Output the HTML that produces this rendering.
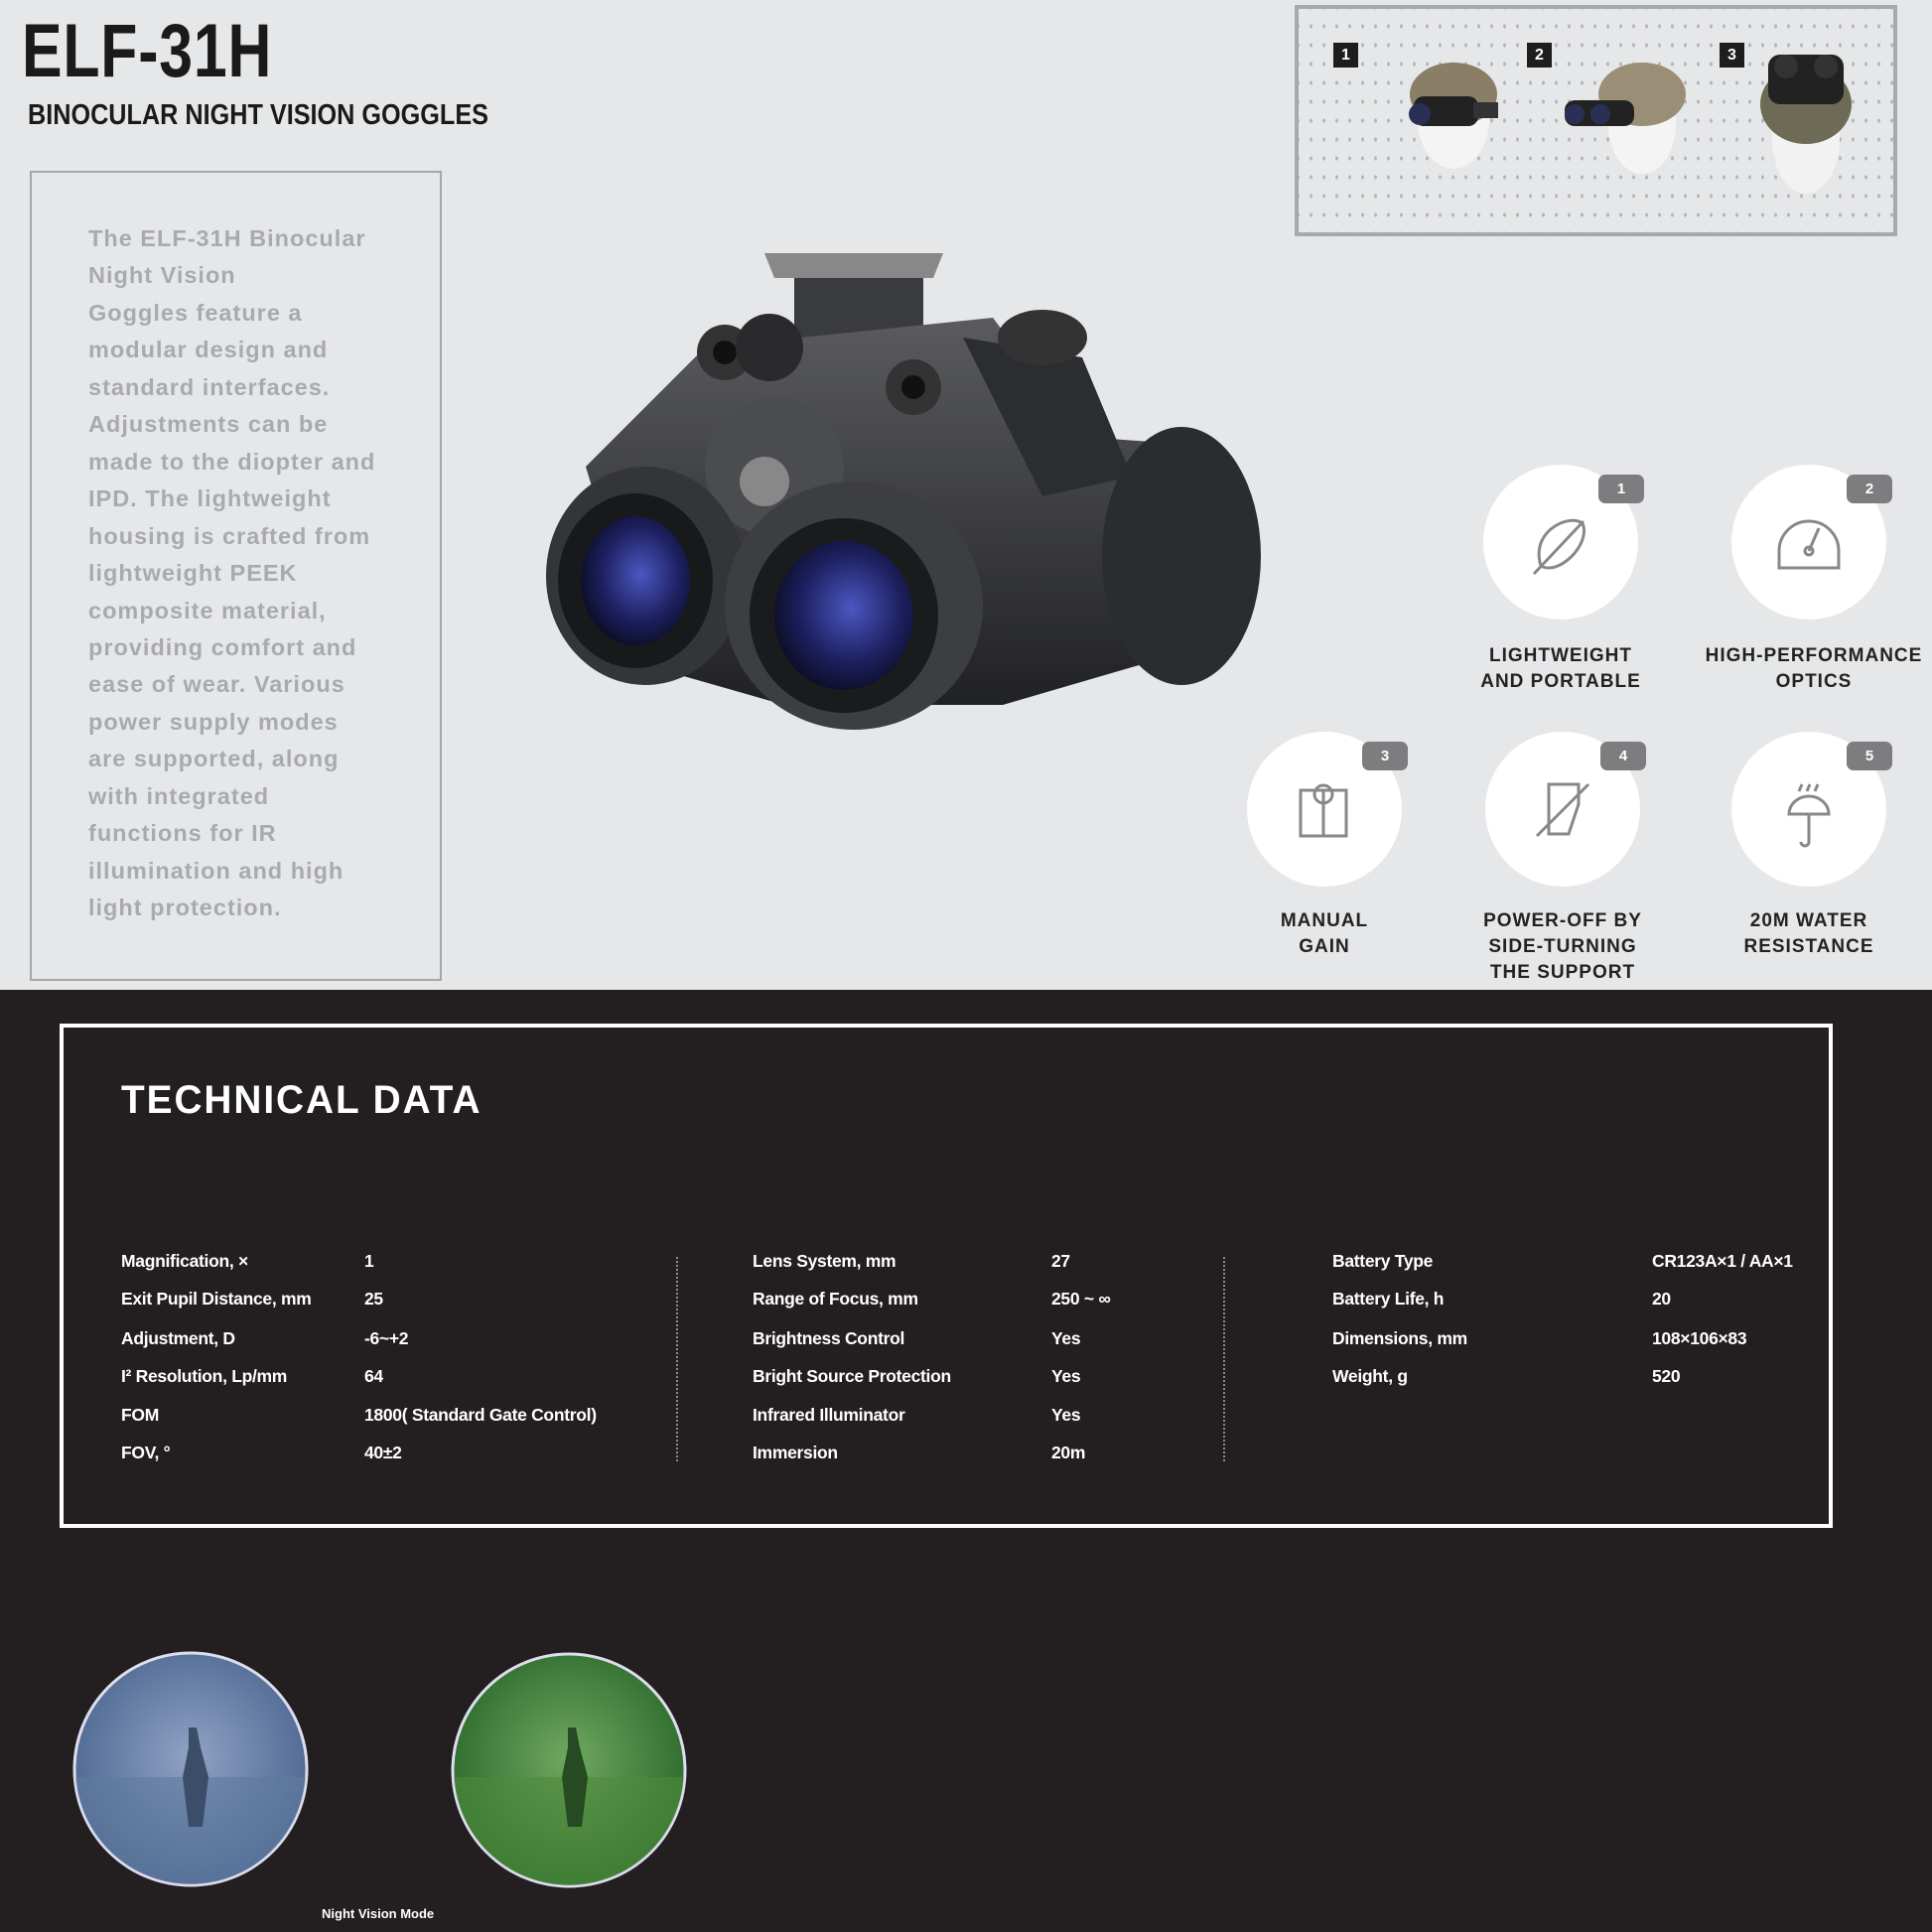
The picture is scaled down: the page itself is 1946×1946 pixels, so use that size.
<!DOCTYPE html>
<html><head><meta charset="utf-8"><style>
*{margin:0;padding:0;box-sizing:border-box}
body{width:1946px;height:1946px;overflow:hidden;background:#231f20;font-family:"Liberation Sans",sans-serif;position:relative}
.top{position:absolute;left:0;top:0;width:1946px;height:997px;background:#e6e7e9}
.a{position:absolute;white-space:nowrap}
.title{left:22px;top:8px;font-size:76px;font-weight:bold;color:#1a1a1a;letter-spacing:1px;transform:scaleX(0.8);transform-origin:left}
.sub{left:28px;top:100px;font-size:29px;font-weight:bold;color:#1a1a1a;transform:scaleX(0.87);transform-origin:left}
.tbox{left:30px;top:172px;width:415px;height:816px;border:2px solid #a5a6a8}
.desc{left:89px;top:222px;font-size:23.5px;line-height:37.45px;color:#a9aaac;font-weight:bold;letter-spacing:1px}
.hbox{left:1304px;top:5px;width:607px;height:233px;border:4px solid #a8a9ab;background-image:radial-gradient(#b5b5b5 1.3px,transparent 1.6px);background-size:13px 19px;background-position:6px 8px}
.num{position:absolute;width:25px;height:25px;background:#1e1e1e;color:#fff;font-size:16px;font-weight:bold;text-align:center;line-height:25px}
.circ{position:absolute;width:156px;height:156px;border-radius:50%;background:#fff}
.badge{position:absolute;width:46px;height:29px;border-radius:7px;background:#7d7d7f;color:#fff;font-size:15px;font-weight:bold;text-align:center;line-height:29px}
.lab{position:absolute;width:260px;text-align:center;font-size:19px;font-weight:bold;line-height:26px;color:#222;letter-spacing:1px}
.wbox{left:60px;top:1031px;width:1786px;height:508px;border:4px solid #fff}
.td{left:122px;top:1086px;font-size:40px;font-weight:bold;color:#fff;letter-spacing:2px;transform:scaleX(0.97);transform-origin:left}
.t{position:absolute;color:#fff;font-size:17.5px;font-weight:bold;white-space:nowrap;letter-spacing:-.3px}
.sep{position:absolute;top:1266px;height:206px;border-left:2px dotted #8a8a8a}
</style></head><body>
<div class="top"></div>
<div class="a title">ELF-31H</div>
<div class="a sub">BINOCULAR NIGHT VISION GOGGLES</div>
<div class="a tbox"></div>
<div class="a desc">The ELF-31H Binocular<br>Night Vision<br>Goggles feature a<br>modular design and<br>standard interfaces.<br>Adjustments can be<br>made to the diopter and<br>IPD. The lightweight<br>housing is crafted from<br>lightweight PEEK<br>composite material,<br>providing comfort and<br>ease of wear. Various<br>power supply modes<br>are supported, along<br>with integrated<br>functions for IR<br>illumination and high<br>light protection.</div>

<div class="a hbox"></div>
<div class="num" style="left:1343px;top:43px">1</div>
<div class="num" style="left:1538px;top:43px">2</div>
<div class="num" style="left:1732px;top:43px">3</div>
<svg class="a" style="left:1304px;top:5px" width="607" height="233">
 <g transform="translate(130,0)"><ellipse cx="30" cy="115" rx="36" ry="50" fill="#f4f4f4"/><ellipse cx="30" cy="90" rx="44" ry="32" fill="#8a7f66"/><rect x="-10" y="92" width="65" height="30" rx="10" fill="#222"/><circle cx="-4" cy="110" r="11" fill="#2a2f55"/><rect x="50" y="98" width="25" height="16" fill="#333"/></g>
 <g transform="translate(330,0)"><ellipse cx="20" cy="120" rx="34" ry="50" fill="#f4f4f4"/><ellipse cx="20" cy="90" rx="44" ry="32" fill="#9b8e76"/><rect x="-58" y="96" width="70" height="26" rx="10" fill="#222"/><circle cx="-48" cy="110" r="10" fill="#2a2f55"/><circle cx="-22" cy="110" r="10" fill="#2a2f55"/></g>
 <g transform="translate(515,0)"><ellipse cx="0" cy="135" rx="34" ry="55" fill="#f2f2f2"/><ellipse cx="0" cy="100" rx="46" ry="40" fill="#6d6a55"/><rect x="-38" y="50" width="76" height="50" rx="12" fill="#222"/><circle cx="-20" cy="62" r="12" fill="#333"/><circle cx="20" cy="62" r="12" fill="#333"/></g>
</svg>

<svg class="a" style="left:530px;top:240px" width="760" height="500" viewBox="0 0 760 500">
 <defs>
  <radialGradient id="lens" cx="55%" cy="45%" r="60%"><stop offset="0" stop-color="#4a58c0"/><stop offset=".6" stop-color="#1d2060"/><stop offset="1" stop-color="#0b0c20"/></radialGradient>
  <linearGradient id="bd" x1="0" y1="0" x2="0" y2="1"><stop offset="0" stop-color="#5a5b5f"/><stop offset="1" stop-color="#202124"/></linearGradient>
 </defs>
 <polygon points="240,15 420,15 410,40 250,40" fill="#888"/>
 <rect x="270" y="40" width="130" height="70" fill="#3a3b3e"/>
 <path d="M180,110 L470,80 L560,200 L700,210 Q745,300 720,400 L480,470 L260,470 L120,430 L60,230 Z" fill="url(#bd)"/>
 <path d="M440,100 L560,120 L610,240 L520,260 Z" fill="#2c2d30"/>
 <circle cx="200" cy="115" r="28" fill="#333"/><circle cx="200" cy="115" r="12" fill="#111"/>
 <circle cx="245" cy="110" r="34" fill="#2a2a2c"/>
 <circle cx="390" cy="150" r="28" fill="#333"/><circle cx="390" cy="150" r="12" fill="#111"/>
 <ellipse cx="520" cy="100" rx="45" ry="28" fill="#333"/>
 <circle cx="250" cy="230" r="70" fill="#4b4c50"/><circle cx="240" cy="245" r="25" fill="#888"/>
 <ellipse cx="660" cy="320" rx="80" ry="130" fill="#2b2c2f"/>
 <ellipse cx="120" cy="340" rx="100" ry="110" fill="#343538"/>
 <ellipse cx="110" cy="345" rx="78" ry="88" fill="#18191b"/>
 <ellipse cx="110" cy="345" rx="55" ry="65" fill="url(#lens)"/>
 <ellipse cx="330" cy="370" rx="130" ry="125" fill="#3d3e42"/>
 <ellipse cx="320" cy="380" rx="95" ry="98" fill="#1a1b1d"/>
 <ellipse cx="320" cy="380" rx="70" ry="75" fill="url(#lens)"/>
</svg>

<div class="circ" style="left:1494px;top:468px"></div>
<div class="circ" style="left:1744px;top:468px"></div>
<div class="circ" style="left:1256px;top:737px"></div>
<div class="circ" style="left:1496px;top:737px"></div>
<div class="circ" style="left:1744px;top:737px"></div>
<div class="badge" style="left:1610px;top:478px">1</div>
<div class="badge" style="left:1860px;top:478px">2</div>
<div class="badge" style="left:1372px;top:747px">3</div>
<div class="badge" style="left:1612px;top:747px">4</div>
<div class="badge" style="left:1860px;top:747px">5</div>
<svg class="a" style="left:0;top:0" width="1946" height="997" fill="none" stroke="#888" stroke-width="3">
 <path d="M1545,578 L1595,525 M1552,570 C1540,530 1590,515 1595,530 C1600,550 1570,580 1552,570"/>
 <path d="M1792,572 L1792,555 A30,30 0 1 1 1852,555 L1852,572 Z M1822,555 L1832,532"/><circle cx="1822" cy="555" r="4"/>
 <rect x="1310" y="796" width="46" height="46"/><line x1="1333" y1="796" x2="1333" y2="842"/><circle cx="1333" cy="800" r="9"/>
 <path d="M1560,790 L1560,840 L1580,840 L1590,810 L1590,790 Z M1548,842 L1600,790"/>
 <path d="M1802,820 A20,18 0 0 1 1842,820 Z M1822,820 L1822,848 A4,4 0 0 1 1814,848 M1815,790 L1812,797 M1823,790 L1820,797 M1831,790 L1828,797"/>
</svg>
<div class="lab" style="left:1442px;top:648px">LIGHTWEIGHT<br>AND PORTABLE</div>
<div class="lab" style="left:1697px;top:648px">HIGH-PERFORMANCE<br>OPTICS</div>
<div class="lab" style="left:1204px;top:915px">MANUAL<br>GAIN</div>
<div class="lab" style="left:1444px;top:915px">POWER-OFF BY<br>SIDE-TURNING<br>THE SUPPORT</div>
<div class="lab" style="left:1692px;top:915px">20M WATER<br>RESISTANCE</div>

<div class="a wbox"></div>
<div class="a td">TECHNICAL DATA</div>
<div class="sep" style="left:681px"></div>
<div class="sep" style="left:1232px"></div>

<div class="t" style="left:122px;top:1260px">Magnification, ×</div><div class="t" style="left:367px;top:1260px">1</div>
<div class="t" style="left:122px;top:1298px">Exit Pupil Distance, mm</div><div class="t" style="left:367px;top:1298px">25</div>
<div class="t" style="left:122px;top:1338px">Adjustment, D</div><div class="t" style="left:367px;top:1338px">-6~+2</div>
<div class="t" style="left:122px;top:1376px">I² Resolution, Lp/mm</div><div class="t" style="left:367px;top:1376px">64</div>
<div class="t" style="left:122px;top:1415px">FOM</div><div class="t" style="left:367px;top:1415px">1800( Standard Gate Control)</div>
<div class="t" style="left:122px;top:1453px">FOV, °</div><div class="t" style="left:367px;top:1453px">40±2</div>

<div class="t" style="left:758px;top:1260px">Lens System, mm</div><div class="t" style="left:1059px;top:1260px">27</div>
<div class="t" style="left:758px;top:1298px">Range of Focus, mm</div><div class="t" style="left:1059px;top:1298px">250 ~ ∞</div>
<div class="t" style="left:758px;top:1338px">Brightness Control</div><div class="t" style="left:1059px;top:1338px">Yes</div>
<div class="t" style="left:758px;top:1376px">Bright Source Protection</div><div class="t" style="left:1059px;top:1376px">Yes</div>
<div class="t" style="left:758px;top:1415px">Infrared Illuminator</div><div class="t" style="left:1059px;top:1415px">Yes</div>
<div class="t" style="left:758px;top:1453px">Immersion</div><div class="t" style="left:1059px;top:1453px">20m</div>

<div class="t" style="left:1342px;top:1260px">Battery Type</div><div class="t" style="left:1664px;top:1260px">CR123A×1 / AA×1</div>
<div class="t" style="left:1342px;top:1298px">Battery Life, h</div><div class="t" style="left:1664px;top:1298px">20</div>
<div class="t" style="left:1342px;top:1338px">Dimensions, mm</div><div class="t" style="left:1664px;top:1338px">108×106×83</div>
<div class="t" style="left:1342px;top:1376px">Weight, g</div><div class="t" style="left:1664px;top:1376px">520</div>

<svg class="a" style="left:0;top:1640px" width="720" height="290">
 <defs>
  <radialGradient id="b1" cx="50%" cy="45%" r="55%"><stop offset="0" stop-color="#8fa3c4"/><stop offset="1" stop-color="#4d6791"/></radialGradient>
  <radialGradient id="g1" cx="50%" cy="45%" r="55%"><stop offset="0" stop-color="#6fa860"/><stop offset="1" stop-color="#2c6a2c"/></radialGradient>
  <clipPath id="c1"><circle cx="192" cy="142" r="116"/></clipPath>
  <clipPath id="c2"><circle cx="573" cy="143" r="116"/></clipPath>
 </defs>
 <circle cx="192" cy="142" r="117" fill="url(#b1)" stroke="#dde" stroke-width="3"/>
 <rect x="70" y="150" width="250" height="120" fill="#5f7a9e" opacity=".6" clip-path="url(#c1)"/>
 <path d="M190,100 l8,0 l4,20 l8,30 l-6,50 l-14,0 l-6,-50 l6,-30 Z" fill="#3c4d6a"/>
 <circle cx="573" cy="143" r="117" fill="url(#g1)" stroke="#dde" stroke-width="3"/>
 <rect x="450" y="150" width="250" height="120" fill="#4f8a3c" opacity=".6" clip-path="url(#c2)"/>
 <path d="M572,100 l8,0 l4,20 l8,30 l-6,50 l-14,0 l-6,-50 l6,-30 Z" fill="#264a22"/>
</svg>
<div class="a" style="left:324px;top:1920px;color:#fff;font-size:13px;font-weight:bold">Night Vision Mode</div>
</body></html>
